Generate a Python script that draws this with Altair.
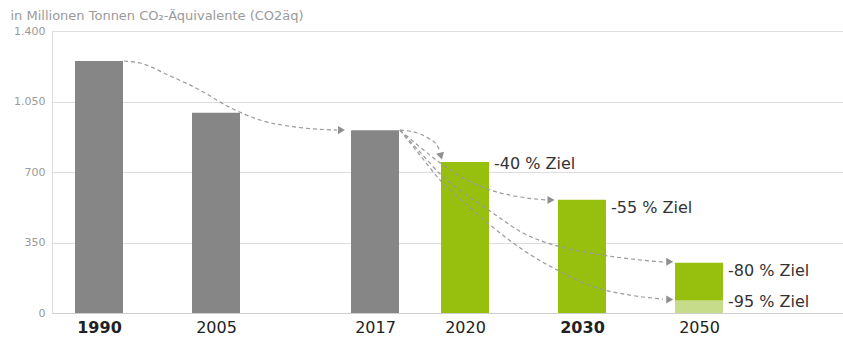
import altair as alt
import pandas as pd

# ---- data ----
years = [1990, 2005, 2017, 2020, 2030, 2050]
emissions = [1251, 994, 907, 750, 562, 250]
kinds = ["Ist", "Ist", "Ist", "Ziel", "Ziel", "Ziel"]

light_years = [2050]
light_values = [63]

label_years = [2020, 2030, 2050, 2050]
label_values = [750, 562, 250, 63]
label_texts = ["-40 % Ziel", "-55 % Ziel", "-80 % Ziel", "-95 % Ziel"]
label_group = ["a", "b", "b", "a"]

# arrow paths (waypoints in year / value units)
arrow_ids = ["1990", "2020", "2030", "2050a", "2050b"]
arrow_x = [
    [1993.2, 1995.26, 1999.10, 2002.95, 2005.83, 2008.32, 2010.81, 2014.13],
    [2017.83, 2018.39, 2018.78, 2019.06, 2019.17],
    [2017.83, 2018.5, 2019.17, 2020.0, 2022.14, 2024.70, 2027.0],
    [2017.83, 2018.5, 2019.17, 2020.0, 2022.14, 2024.96, 2027.86, 2031.37, 2037.01, 2043.85],
    [2017.83, 2018.5, 2019.17, 2020.0, 2022.14, 2024.96, 2027.86, 2031.88, 2038.21, 2043.85],
]
arrow_y = [
    [1251, 1241, 1177, 1107, 1028, 958, 925, 908],
    [908, 895, 867, 834, 801],
    [908, 824, 745, 665, 611, 576, 561],
    [908, 799, 690, 591, 506, 397, 333, 298, 273, 253],
    [908, 784, 660, 546, 437, 313, 214, 131, 89, 69],
]
head_x = [2014.47, 2019.2, 2027.35, 2045.0, 2045.0]
head_y = [908, 779, 561, 254, 67]
head_angle = [0, 75, 0, 0, 0]

# ---- tables ----
bars = pd.DataFrame({"year": years, "value": emissions, "kind": kinds})
light = pd.DataFrame({"year": light_years, "value": light_values})
labels = pd.DataFrame({"year": label_years, "value": label_values,
                       "text": label_texts, "grp": label_group})
rows = []
for aid, xs, ys in zip(arrow_ids, arrow_x, arrow_y):
    for i, (xx, yy) in enumerate(zip(xs, ys)):
        rows.append({"id": aid, "i": i, "year": xx, "value": yy})
arrows = pd.DataFrame(rows)
heads = pd.DataFrame({"year": head_x, "value": head_y, "angle": head_angle})

GRAY = "#868686"
GREEN = "#97BF0D"
LIGHT = "#C6DC8A"
FONT = "DejaVu Sans"

# piecewise-linear year axis (uneven spacing as in the original layout)
xscale = alt.Scale(domain=[1984] + years + [2074.6],
                   range=[0, 47, 164, 323, 413, 530, 647, 791], nice=False, zero=False)
yscale = alt.Scale(domain=[0, 1400], nice=False, zero=True)

x_axis = alt.Axis(
    values=years, format="d", title=None, grid=False, ticks=False, tickSize=0,
    domain=True, domainColor="#cfcfcf", labelPadding=6, labelFont=FONT,
    labelFontSize=16, labelColor="#222222",
    labelFontWeight=alt.condition("datum.value == 1990 || datum.value == 2030",
                                  alt.value("bold"), alt.value("normal")),
)
y_axis = alt.Axis(
    values=[0, 350, 700, 1050, 1400],
    labelExpr="replace(format(datum.value, ','), ',', '.')",
    domain=False, ticks=False, tickSize=0, grid=True, gridColor="#dedede",
    labelPadding=7, labelFont=FONT, labelFontSize=11, labelColor="#9a9a9a",
    title="in Millionen Tonnen CO₂-Äquivalente (CO2äq)", titleAngle=0,
    titleAlign="left", titleBaseline="alphabetic", titleX=-42, titleY=-12,
    titleFont=FONT, titleFontSize=13, titleFontWeight="normal", titleColor="#9a9a9a",
)

bar_layer = alt.Chart(bars).mark_bar(size=48).encode(
    x=alt.X("year:Q", scale=xscale, axis=x_axis),
    y=alt.Y("value:Q", scale=yscale, axis=y_axis),
    color=alt.Color("kind:N", scale=alt.Scale(domain=["Ist", "Ziel"], range=[GRAY, GREEN]), legend=None),
)

light_layer = alt.Chart(light).mark_bar(size=48, color=LIGHT).encode(
    x=alt.X("year:Q", scale=xscale),
    y=alt.Y("value:Q", scale=yscale),
)

arrow_layer = alt.Chart(arrows).mark_line(
    interpolate="monotone", strokeDash=[4, 3], strokeWidth=1.2, color="#9a9a9a"
).encode(
    x=alt.X("year:Q", scale=xscale),
    y=alt.Y("value:Q", scale=yscale),
    detail="id:N",
    order="i:Q",
)

head_layer = alt.Chart(heads).mark_point(
    shape="triangle-right", filled=True, size=65, color="#8f8f8f", opacity=1
).encode(
    x=alt.X("year:Q", scale=xscale),
    y=alt.Y("value:Q", scale=yscale),
    angle=alt.Angle("angle:Q", scale=None),
)

text_a = alt.Chart(labels).transform_filter("datum.grp == 'a'").mark_text(
    align="left", baseline="alphabetic", dx=29, dy=7, font=FONT, fontSize=16, color="#333333"
).encode(
    x=alt.X("year:Q", scale=xscale),
    y=alt.Y("value:Q", scale=yscale),
    text="text:N",
)
text_b = alt.Chart(labels).transform_filter("datum.grp == 'b'").mark_text(
    align="left", baseline="alphabetic", dx=29, dy=13, font=FONT, fontSize=16, color="#333333"
).encode(
    x=alt.X("year:Q", scale=xscale),
    y=alt.Y("value:Q", scale=yscale),
    text="text:N",
)

chart = alt.layer(bar_layer, light_layer, arrow_layer, head_layer, text_a, text_b).properties(
    width=791, height=282,
    padding={"left": 52, "top": 31, "right": 0, "bottom": 28},
    autosize="none",
).configure_view(stroke=None).configure(background="white")

chart.save("out.html", embed_options={"renderer": "svg", "actions": False})
